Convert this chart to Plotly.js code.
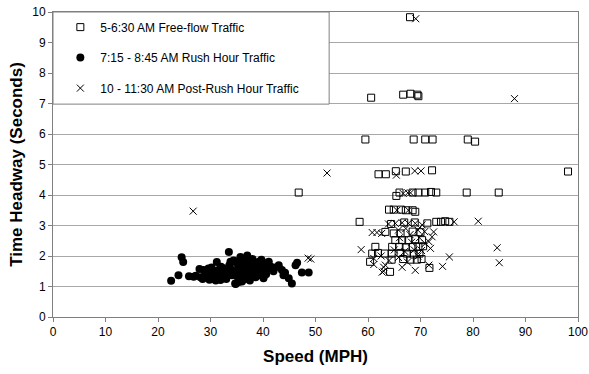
<!DOCTYPE html>
<html>
<head>
<meta charset="utf-8">
<script src="https://cdn.plot.ly/plotly-3.0.1.min.js"></script>
<style>html,body{margin:0;padding:0;background:#fff;}#chart{width:589px;height:374px;}</style>
</head>
<body>
<div id="chart"></div>
<script>
// ---- Data ----
const seriesNames = [
  "5-6:30 AM Free-flow Traffic",
  "7:15 - 8:45 AM Rush Hour Traffic",
  "10 - 11:30 AM Post-Rush Hour Traffic"
];

const freeSpeed = [68.0,60.6,66.7,68.1,69.4,69.6,59.5,68.7,70.9,72.3,79.0,80.4,62.0,63.4,65.3,67.2,72.2,98.1,46.8,
  65.4,66.0,68.5,69.6,70.9,72.0,73.0,78.8,84.9,64.0,64.9,66.3,67.2,68.5,69.0,58.4,73.0,73.9,74.7,75.5,
  63.3,64.9,66.2,68.5,70.0,65.2,66.5,67.7,69.0,70.3,61.4,64.6,66.0,67.2,68.5,69.6,70.5,
  60.8,61.9,63.2,64.5,66.2,67.4,68.7,69.8,60.4,64.5,66.7,68.1,69.3,70.2,64.2,71.7,64.4,66.9,68.9,71.3];
const freeHeadway = [9.83,7.19,7.29,7.32,7.29,7.24,5.82,5.82,5.82,5.82,5.82,5.75,4.68,4.68,4.78,4.77,4.81,4.77,4.08,
  3.97,4.08,4.08,4.08,4.08,4.10,4.08,4.08,4.08,3.52,3.52,3.52,3.50,3.50,3.45,3.12,3.12,3.12,3.14,3.12,
  2.79,2.74,2.74,2.80,2.78,2.52,2.52,2.52,2.55,2.52,2.30,2.30,2.30,2.28,2.30,2.30,2.32,
  2.08,2.10,2.08,2.08,2.10,2.08,2.05,2.08,1.81,1.88,1.90,1.88,1.88,1.90,1.48,1.61,3.05,3.10,3.10,3.07];

const rushSpeed = [22.5,23.9,24.5,24.8,25.9,26.8,27.9,28.1,28.7,29.6,30.0,30.9,31.2,31.5,31.9,32.8,33.5,33.8,34.1,34.7,
  34.8,35.0,35.7,36.3,37.0,36.0,37.3,38.2,39.5,40.1,41.1,41.1,43.0,43.6,43.9,44.9,45.5,46.2,46.5,47.4,
  48.7,37.6,38.5,39.2,39.8,40.4,38.9,38.2,27.2,28.5,29.0,29.3,30.2,30.5,31.0,31.8,32.2,32.5,33.0,33.2,
  33.6,34.0,34.4,34.6,35.2,35.3,35.5,35.8,36.1,36.4,36.6,36.8,37.0,37.2,37.5,37.8,38.0,38.6,39.0,39.4,
  40.0,40.6,41.5,42.0,39.7,36.9,35.4,32.0,30.4,29.8,42.3,44.2];
const rushHeadway = [1.19,1.37,1.96,1.80,1.34,1.32,1.57,1.30,1.54,1.59,1.43,1.35,1.80,1.54,1.21,1.43,2.13,1.81,1.37,1.10,
  1.08,1.76,1.97,1.54,2.02,1.16,1.32,1.70,1.37,1.27,1.59,1.81,1.70,1.54,1.37,1.27,1.10,1.70,1.78,1.46,
  1.46,1.76,1.70,1.81,1.65,1.76,1.54,1.43,1.35,1.25,1.45,1.30,1.62,1.25,1.20,1.45,1.30,1.60,1.25,1.50,
  1.70,1.55,1.85,1.45,1.30,1.60,1.85,1.40,1.70,1.90,1.25,1.60,1.45,1.80,1.20,1.55,1.90,1.30,1.65,1.48,
  1.58,1.40,1.65,1.50,1.88,1.95,1.15,1.65,1.50,1.22,1.62,1.45];

const postSpeed = [69.1,87.9,52.2,65.4,68.9,70.1,26.7,48.6,49.1,66.7,67.6,68.1,65.5,67.7,
  63.9,65.2,66.5,67.7,69.0,70.3,76.4,81.0,60.8,61.7,62.6,65.8,67.2,68.0,69.5,70.8,72.5,
  72.2,71.6,70.9,71.9,66.0,68.3,69.8,58.7,84.6,65.0,67.0,68.8,70.2,61.1,62.5,65.8,69.5,75.5,
  63.3,61.1,63.0,66.5,71.6,74.2,85.0,62.7,63.0,69.0,64.0,67.5];
const postHeadway = [9.78,7.16,4.72,4.65,4.79,4.79,3.47,1.93,1.90,4.05,4.07,4.07,3.50,3.50,
  3.05,3.07,3.09,3.07,3.07,3.02,3.12,3.14,2.77,2.77,2.74,2.85,2.90,2.70,2.85,2.80,2.79,
  2.63,2.47,2.41,2.25,2.60,2.45,2.60,2.21,2.27,2.20,2.15,2.20,2.18,1.92,2.00,1.95,2.00,1.97,
  1.70,1.72,1.63,1.63,1.70,1.66,1.78,1.47,1.50,1.53,1.85,1.80];

const xTicks = [0,10,20,30,40,50,60,70,80,90,100];
const yTicks = [0,1,2,3,4,5,6,7,8,9,10];

// ---- Chart ----
const FONT = "Liberation Sans, Arial, sans-serif";
const traces = [
  {x: freeSpeed, y: freeHeadway, name: seriesNames[0], type: "scatter", mode: "markers", legendgroup: "a",
   marker: {symbol: "square-open", size: 7, color: "#000", line: {width: 1, color: "#000"}}},
  {x: rushSpeed, y: rushHeadway, name: seriesNames[1], type: "scatter", mode: "markers", legendgroup: "b",
   marker: {symbol: "circle", size: 8, color: "#000"}},
  {x: postSpeed, y: postHeadway, name: seriesNames[2], type: "scatter", mode: "markers", legendgroup: "c",
   marker: {symbol: "x-thin-open", size: 7, color: "#000", line: {width: 1, color: "#000"}}}
];

const layout = {
  width: 589, height: 374,
  margin: {l: 53, r: 11, t: 12, b: 57, pad: 0},
  paper_bgcolor: "#fff", plot_bgcolor: "#fff",
  font: {family: FONT, size: 12, color: "#000"},
  showlegend: true,
  legend: {x: 0.014, y: 0.998, xanchor: "left", yanchor: "top", bgcolor: "rgba(0,0,0,0)",
           borderwidth: 0, tracegroupgap: 11.5, font: {family: FONT, size: 12, color: "#000"}},
  xaxis: {range: [0, 100], tickvals: xTicks, ticktext: xTicks.map(String), showgrid: false, zeroline: false,
          showline: true, linecolor: "#808080", linewidth: 1, mirror: true,
          ticks: "outside", ticklen: 4, tickcolor: "#808080",
          tickfont: {family: FONT, size: 12, color: "#000"},
          title: {text: "Speed (MPH)", standoff: 11, font: {family: FONT, size: 17, color: "#000", weight: "bold"}}},
  yaxis: {range: [0, 10], tickvals: yTicks, ticktext: yTicks.map(String), showgrid: true, gridcolor: "#a8a8a8", gridwidth: 1,
          zeroline: false, showline: true, linecolor: "#808080", linewidth: 1, mirror: true,
          ticks: "outside", ticklen: 4, tickcolor: "#808080",
          tickfont: {family: FONT, size: 12, color: "#000"},
          title: {text: "Time Headway (Seconds)", standoff: 5, font: {family: FONT, size: 17, color: "#000", weight: "bold"}}},
  shapes: [
    {type: "rect", xref: "paper", yref: "paper", x0: 0, x1: 0.526, y0: 0.698, y1: 1,
     fillcolor: "#fff", line: {color: "#808080", width: 1}, layer: "above"}
  ]
};

Plotly.newPlot("chart", traces, layout, {displayModeBar: false, staticPlot: true});
</script>
</body>
</html>
